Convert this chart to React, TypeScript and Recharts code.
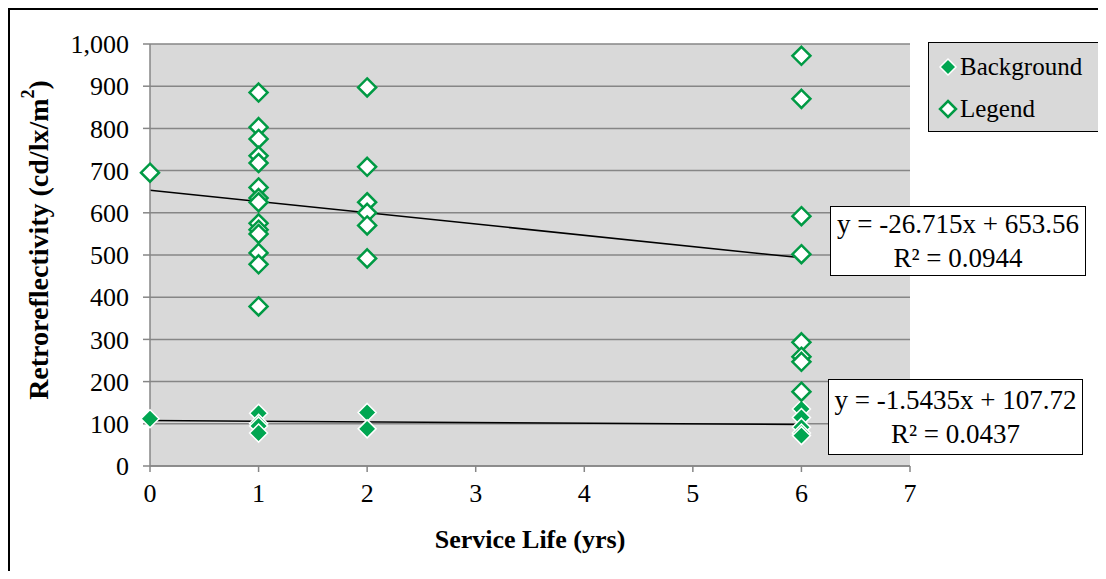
import React from 'react';
import { ComposedChart, Scatter, Line, XAxis, YAxis, CartesianGrid } from 'recharts';

// service life (yrs) groups and readings
const serviceLife = [0, 1, 2, 6];
const backgroundByYear = [
  [112],
  [125, 101, 95, 78],
  [127, 88],
  [135, 115, 92, 78, 72],
];
const legendByYear = [
  [695],
  [885, 803, 775, 735, 718, 660, 635, 625, 575, 560, 550, 505, 478, 378],
  [897, 709, 625, 600, 570, 492],
  [972, 870, 592, 502, 293, 259, 247, 176],
];
// linear trend endpoints (from the equations on the chart)
const legendTrend = [{ x: 0, y: 653.56 }, { x: 6, y: 493.27 }];
const backgroundTrend = [{ x: 0, y: 107.72 }, { x: 6, y: 98.46 }];
const xTicks = [0, 1, 2, 3, 4, 5, 6, 7];
const yTicks = [0, 100, 200, 300, 400, 500, 600, 700, 800, 900, 1000];
const seriesNames = ['Background', 'Legend'];

const toPoints = (groups: number[][]) =>
  groups.flatMap((vals, i) => vals.map((v) => ({ x: serviceLife[i], y: v })));

const backgroundData = toPoints(backgroundByYear);
const legendData = toPoints(legendByYear);

const GREEN = '#009A44';
const FILL = '#00A651';
const FONT = '"Liberation Serif", "Times New Roman", serif';

const Hollow = (p: any) => {
  const { cx, cy } = p;
  const r = 9;
  return (
    <polygon
      points={`${cx},${cy - r} ${cx + r},${cy} ${cx},${cy + r} ${cx - r},${cy}`}
      fill="#fff"
      stroke={GREEN}
      strokeWidth={2.5}
    />
  );
};

const Solid = (p: any) => {
  const { cx, cy } = p;
  const r = 9;
  return (
    <polygon
      points={`${cx},${cy - r} ${cx + r},${cy} ${cx},${cy + r} ${cx - r},${cy}`}
      fill={FILL}
      stroke="#fff"
      strokeWidth={1.5}
    />
  );
};

const XTitle = (props: any) => {
  const vb = props.viewBox;
  return (
    <text x={vb.x + vb.width / 2} y={vb.y + 82} textAnchor="middle" fontFamily={FONT}
      fontSize={26} fontWeight="bold" fill="#000">
      Service Life (yrs)
    </text>
  );
};

const YTitle = (props: any) => {
  const vb = props.viewBox;
  const x = vb.x - 52;
  const y = vb.y + vb.height / 2 - 15;
  return (
    <text x={x} y={y} transform={`rotate(-90, ${x}, ${y})`} textAnchor="middle"
      dominantBaseline="central" fontFamily={FONT} fontSize={28} fontWeight="bold" fill="#000">
      Retroreflectivity (cd/lx/m<tspan baselineShift="super" fontSize={18}>2</tspan>)
    </text>
  );
};

const LegendBox = () => (
  <div style={{
    position: 'absolute', left: 918, top: 32,
    boxSizing: 'border-box', width: 174, height: 90, background: '#D9D9D9',
    border: '1.5px solid #000', fontFamily: FONT, fontSize: 25, color: '#000',
    padding: '3px 0 0 8px'
  }}>
    {seriesNames.map((name, i) => (
      <div key={name} style={{ display: 'flex', alignItems: 'center', height: 42 }}>
        <svg width={22} height={22} style={{ marginRight: 1 }}>
          <polygon points="11,3 19,11 11,19 3,11"
            fill={i === 0 ? FILL : '#fff'}
            stroke={i === 0 ? '#fff' : GREEN}
            strokeWidth={i === 0 ? 1.5 : 2.5} />
        </svg>
        <span>{name}</span>
      </div>
    ))}
  </div>
);

const eqBox = (left: number, top: number, w: number, h: number, l1: string, l2: string) => (
  <div style={{
    position: 'absolute', left, top, width: w, height: h, boxSizing: 'border-box',
    background: '#fff', border: '1.5px solid #000', fontFamily: FONT, fontSize: 27,
    lineHeight: '34px', textAlign: 'center', display: 'flex', flexDirection: 'column',
    justifyContent: 'center', color: '#000'
  }}>
    <div>{l1}</div>
    <div>{l2}</div>
  </div>
);

export default function App() {
  return (
    <div style={{ position: 'relative', width: 1096, height: 561, borderTop: '2px solid #000', borderLeft: '2px solid #000' }}>
      <ComposedChart width={1096} height={560} margin={{ top: 34, right: 196, bottom: 64, left: 80 }}>
        <CartesianGrid vertical={false} stroke="#868686" strokeWidth={1.5} fill="#D9D9D9" />
        <XAxis type="number" dataKey="x" domain={[0, 7]} ticks={xTicks} height={40}
          stroke="#868686" strokeWidth={1.5} tickSize={6} tickMargin={12}
          tick={{ fill: '#000', fontSize: 26, fontFamily: FONT }}
          label={{ content: XTitle } as any} />
        <YAxis type="number" dataKey="y" domain={[0, 1000]} ticks={yTicks} width={60}
          stroke="#868686" strokeWidth={1.5} tickSize={7} tickMargin={14} interval={0}
          tickFormatter={(v: number) => v.toLocaleString('en-US')}
          tick={{ fill: '#000', fontSize: 26, fontFamily: FONT }}
          label={{ content: YTitle } as any} />
        <Scatter name="Background" data={backgroundData} shape={Solid} isAnimationActive={false} />
        <Scatter name="Legend" data={legendData} shape={Hollow} isAnimationActive={false} />
        <Line data={legendTrend} dataKey="y" stroke="#000" strokeWidth={1.5} dot={false}
          legendType="none" isAnimationActive={false} />
        <Line data={backgroundTrend} dataKey="y" stroke="#000" strokeWidth={1.5} dot={false}
          legendType="none" isAnimationActive={false} />
      </ComposedChart>
      <LegendBox />
      {eqBox(820, 196, 256, 70, 'y = -26.715x + 653.56', 'R² = 0.0944')}
      {eqBox(818, 369, 255, 76, 'y = -1.5435x + 107.72', 'R² = 0.0437')}
    </div>
  );
}
